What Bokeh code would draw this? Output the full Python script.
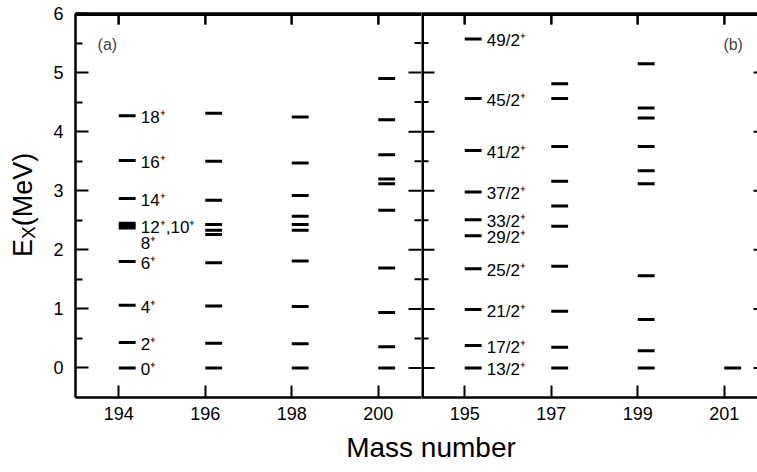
from bokeh.plotting import figure
from bokeh.models import Range1d, FixedTicker, LinearAxis, Label, Div, ColumnDataSource
from bokeh.layouts import row, column
from bokeh.embed import file_html
from bokeh.resources import INLINE
from bokeh.core.properties import value

FONT = "Liberation Sans"

# ---------------- data ----------------
# Panel (a): even-A isotopes
masses_a = [194, 196, 198, 200]
levels_194 = [0.00, 0.43, 1.06, 1.80, 2.37, 2.41, 2.45, 2.87, 3.51, 4.27]
levels_196 = [0.00, 0.42, 1.05, 1.78, 2.26, 2.33, 2.43, 2.84, 3.50, 4.31]
levels_198 = [0.00, 0.41, 1.04, 1.81, 2.33, 2.43, 2.57, 2.92, 3.47, 4.25]
levels_200 = [0.00, 0.36, 0.94, 1.69, 2.67, 3.12, 3.20, 3.61, 4.20, 4.90]
spins_194 = ["0⁺", "2⁺", "4⁺", "6⁺", "8⁺", "12⁺,10⁺", "14⁺", "16⁺", "18⁺"]
spin_energy_194 = [0.00, 0.43, 1.06, 1.80, 2.14, 2.41, 2.87, 3.51, 4.27]

# Panel (b): odd-A isotopes
masses_b = [195, 197, 199, 201]
levels_195 = [0.00, 0.38, 0.99, 1.68, 2.24, 2.51, 2.98, 3.68, 4.56, 5.57]
levels_197 = [0.00, 0.35, 0.96, 1.72, 2.40, 2.74, 3.16, 3.75, 4.56, 4.81]
levels_199 = [0.00, 0.29, 0.82, 1.56, 3.12, 3.34, 3.75, 4.23, 4.40, 5.15]
levels_201 = [0.00]
spins_195 = ["13/2⁺", "17/2⁺", "21/2⁺", "25/2⁺", "29/2⁺", "33/2⁺", "37/2⁺", "41/2⁺", "45/2⁺", "49/2⁺"]
spin_energy_195 = levels_195

x_ticks_a = [194, 196, 198, 200]
x_ticks_b = [195, 197, 199, 201]
y_ticks = [0, 1, 2, 3, 4, 5, 6]
y_minor = [0.5, 1.5, 2.5, 3.5, 4.5, 5.5]

# ---------------- layout ----------------
BAR_LEN = 0.39
LABEL_DX = 0.51
FIG_H = 432
FRAME_H = FIG_H - 13 - 35
YLAB_W = 44
yr = Range1d(-0.5, 6.0)
PX_Y = FRAME_H / (yr.end - yr.start)


def style_axis(ax, ticks, minor, tick_in, minor_in, labels=True):
    ax.ticker = FixedTicker(ticks=ticks, minor_ticks=minor)
    ax.axis_line_color = "black"
    ax.axis_line_width = 2.5
    ax.major_tick_line_color = "black"
    ax.minor_tick_line_color = "black"
    ax.major_tick_line_width = 2
    ax.minor_tick_line_width = 2
    ax.major_tick_in = tick_in
    ax.major_tick_out = 0
    ax.minor_tick_in = minor_in
    ax.minor_tick_out = 0
    if labels:
        ax.major_label_text_font = FONT
        ax.major_label_text_font_size = "18px"
        ax.major_label_text_color = "black"
    else:
        ax.major_label_text_font_size = "1px"
        ax.major_label_text_color = None
        ax.major_label_standoff = 0


def make_fig(width, xr, border_left):
    p = figure(width=width, height=FIG_H, x_range=xr, y_range=yr,
               output_backend="svg", toolbar_location=None,
               min_border_left=border_left, min_border_right=0,
               min_border_top=13, min_border_bottom=35)
    p.title.visible = False
    p.outline_line_color = None
    p.grid.visible = False
    p.background_fill_color = "white"
    p.border_fill_color = "white"
    return p


def frame_edges(p, xr, sides):
    """Frame edges drawn as segments along the range limits."""
    x0, x1, y0, y1 = [], [], [], []
    edges = {
        "top": (xr.start, xr.end, yr.end, yr.end),
        "left": (xr.start, xr.start, yr.start, yr.end),
    }
    for s in sides:
        a, b, c, d = edges[s]
        x0.append(a); x1.append(b); y0.append(c); y1.append(d)
    src = ColumnDataSource(dict(x0=x0, x1=x1, y0=y0, y1=y1))
    p.segment(x0="x0", x1="x1", y0="y0", y1="y1", source=src,
              line_width=5, line_color="black", line_cap="square")


def frame_ticks(p, xr, frame_w, xticks, left_len, left_minor, right_len, right_minor):
    """Inward tick marks as thin filled quads, 2 px thick."""
    px_x = frame_w / (xr.end - xr.start)
    hx, hy = 1.0 / px_x, 1.0 / PX_Y
    L, R, B, T = [], [], [], []
    for t in xticks:
        L.append(t - hx); R.append(t + hx); B.append(yr.end - 11 / PX_Y); T.append(yr.end)
    for ticks, ll, rl in ((y_ticks, left_len, right_len), (y_minor, left_minor, right_minor)):
        for t in ticks:
            if ll:
                L.append(xr.start); R.append(xr.start + ll / px_x); B.append(t - hy); T.append(t + hy)
            if rl:
                L.append(xr.end - rl / px_x); R.append(xr.end); B.append(t - hy); T.append(t + hy)
    src = ColumnDataSource(dict(left=L, right=R, bottom=B, top=T))
    p.quad(left="left", right="right", bottom="bottom", top="top", source=src,
           fill_color="black", line_color=None)


def draw_levels(p, masses, level_lists):
    x0, x1, y = [], [], []
    for m, lv in zip(masses, level_lists):
        for e in lv:
            x0.append(m)
            x1.append(m + BAR_LEN)
            y.append(e)
    src = ColumnDataSource(dict(x0=x0, x1=x1, y=y))
    p.segment(x0="x0", x1="x1", y0="y", y1="y", source=src,
              line_width=3, line_color="black", line_cap="butt")


def draw_spins(p, mass, spins, energies):
    src = ColumnDataSource(dict(x=[mass + LABEL_DX] * len(spins), y=energies, t=spins))
    p.text(x="x", y="y", text="t", source=src, text_font=value(FONT),
           text_font_size="17px", text_baseline="middle", text_align="left",
           y_offset=2, text_color="black")


# left panel (a)
W1 = 421 - YLAB_W
xr1 = Range1d(193, 201)
p1 = make_fig(W1, xr1, 75 - YLAB_W)
style_axis(p1.xaxis[0], x_ticks_a, [], 12, 0)
p1.xaxis[0].major_label_standoff = 9
style_axis(p1.yaxis[0], y_ticks, y_minor, 13, 7)
p1.yaxis[0].major_label_standoff = 12
top1 = LinearAxis()
style_axis(top1, x_ticks_a, [], 11, 0, labels=False)
p1.add_layout(top1, "above")

frame_edges(p1, xr1, ["top"])
draw_levels(p1, masses_a, [levels_194, levels_196, levels_198, levels_200])
frame_ticks(p1, xr1, 421 - 75, x_ticks_a, 0, 0, 13, 7)
draw_spins(p1, masses_a[0], spins_194, spin_energy_194)
p1.add_layout(Label(x=193.51, y=5.47, text="(a)", text_font=FONT, text_font_size="16px",
                    text_baseline="middle", text_align="left"))

# right panel (b)
W2 = 757 - 421
xr2 = Range1d(194, 194 + W2 / 43.25)
p2 = make_fig(W2, xr2, 0)
style_axis(p2.xaxis[0], x_ticks_b, [], 12, 0)
p2.xaxis[0].major_label_standoff = 9
p2.yaxis.visible = False
top2 = LinearAxis()
style_axis(top2, x_ticks_b, [], 11, 0, labels=False)
p2.add_layout(top2, "above")

frame_edges(p2, xr2, ["top", "left"])
draw_levels(p2, masses_b, [levels_195, levels_197, levels_199, levels_201])
frame_ticks(p2, xr2, W2, x_ticks_b, 13, 7, 4, 0)
draw_spins(p2, masses_b[0], spins_195, spin_energy_195)
p2.add_layout(Label(x=200.98, y=5.47, text="(b)", text_font=FONT, text_font_size="16px",
                    text_baseline="middle", text_align="left"))

# axis titles as real HTML text
ylabel = Div(text="E<sub style='font-size:19px'>X</sub>(MeV)", width=YLAB_W, height=410,
             margin=(0, 0, 0, 0),
             styles={"writing-mode": "vertical-rl", "transform": "rotate(180deg)",
                     "text-align": "center", "font-family": FONT, "font-size": "27px",
                     "line-height": "46px", "color": "black"})
xlabel = Div(text="Mass number", width=446, height=36, margin=(0, 0, 0, 208),
             styles={"text-align": "center", "font-family": FONT, "font-size": "28px",
                     "line-height": "32px", "color": "black"})

layout = column(row(ylabel, p1, p2), xlabel)
open("out.html", "w").write(file_html(layout, INLINE))
